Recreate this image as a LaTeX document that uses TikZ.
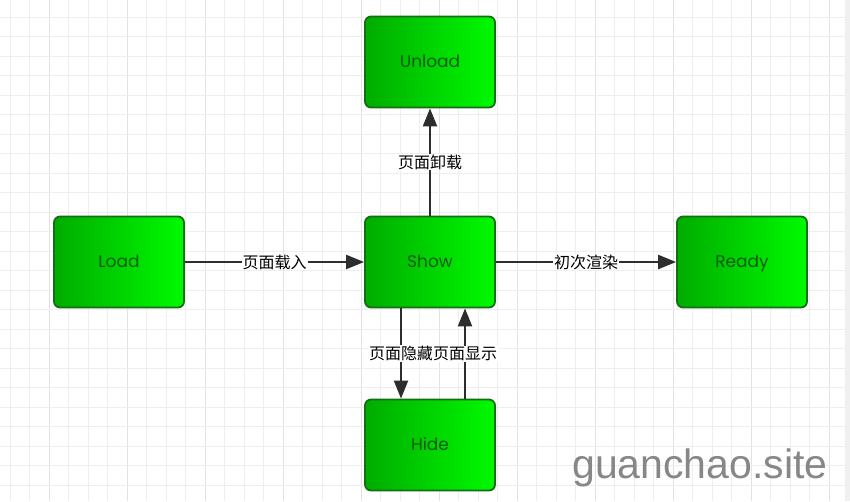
\documentclass[tikz,border=0pt]{standalone}
\usepackage{fontspec}
\setmainfont{Poppins}
\newfontfamily\cjk{Noto Sans CJK SC}
\newfontfamily\wm{Liberation Sans}
\usetikzlibrary{arrows.meta}
\definecolor{gridminor}{RGB}{238,238,238}
\definecolor{gridmajor}{RGB}{226,226,226}
\definecolor{boxleft}{RGB}{0,172,0}
\definecolor{boxright}{RGB}{0,250,0}
\definecolor{boxborder}{RGB}{20,110,20}
\definecolor{boxtext}{RGB}{12,90,12}
\definecolor{arrowc}{RGB}{45,45,45}
\definecolor{wmc}{RGB}{135,135,135}
\tikzset{
  statebox/.style={draw=boxborder, line width=1.8pt, rounded corners=6pt,
    left color=boxleft, right color=boxright,
    minimum width=130pt, minimum height=91pt, inner sep=0pt,
    text height=13pt, text depth=2pt,
    text=boxtext, font=\fontsize{17}{19}\selectfont},
  conn/.style={draw=arrowc, line width=2.2pt,
    -{Triangle[length=18pt,width=14pt]}},
  lbl/.style={fill=white, inner sep=1pt, text=black,
    font=\cjk\fontsize{16}{18}\selectfont}
}
\begin{document}
\begin{tikzpicture}[x=1pt,y=-1pt]
\useasboundingbox (0,0) rectangle (850,501);
\fill[white] (0,0) rectangle (850,501);
% grid
\foreach \i in {0,...,43} {
  \pgfmathtruncatemacro{\m}{mod(\i+2,4)}
  \ifnum\m=0
    \draw[gridmajor, line width=1pt] ({10+19.5*\i},0) -- ({10+19.5*\i},501);
  \else
    \draw[gridminor, line width=1pt] ({10+19.5*\i},0) -- ({10+19.5*\i},501);
  \fi
}
\foreach \j in {0,...,25} {
  \draw[gridminor, line width=1pt] (0,{17+19.52*\j}) -- (850,{17+19.52*\j});
}
\fill[gray!12] (845,0) rectangle (850,501);
% nodes
\node[statebox] (load)   at (119,262) {Load};
\node[statebox] (show)   at (430,262) {Show};
\node[statebox] (unload) at (430,62)  {Unload};
\node[statebox] (hide)   at (430,445) {Hide};
\node[statebox] (ready)  at (742,262) {Ready};
% connectors
\draw[conn] (load.east) -- node[lbl] {页面载入} (show.west);
\draw[conn] (show.east) -- node[lbl] {初次渲染} (ready.west);
\draw[conn] (show.north) -- node[lbl] {页面卸载} (unload.south);
\draw[conn] ([xshift=-29pt]show.south) -- node[lbl] {页面隐藏} ([xshift=-29pt]hide.north);
\draw[conn] ([xshift=35pt]hide.north) -- node[lbl] {页面显示} ([xshift=35pt]show.south);
% watermark
\node[anchor=base west, inner sep=0pt, text=wmc, font=\wm\fontsize{41}{44}\selectfont] (wmark) at (572,478) {guanchao.site};
\end{tikzpicture}
\end{document}
